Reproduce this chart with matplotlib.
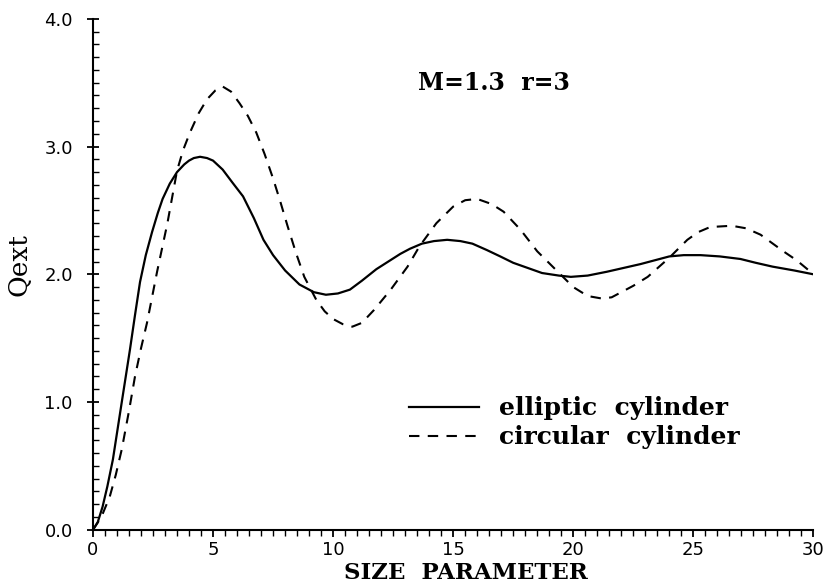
import numpy as np
import matplotlib
matplotlib.use("Agg")
import matplotlib.pyplot as plt
from matplotlib.ticker import MultipleLocator

# values
x_elliptic = [0, 0.2, 0.4, 0.6, 0.83, 1.2, 1.54, 1.75, 1.96, 2.2, 2.46, 2.7, 2.9, 3.2, 3.5,
              3.8, 4.0, 4.2, 4.46, 4.75, 5.0, 5.4, 5.8, 6.25, 6.7, 7.1, 7.5, 8.0, 8.6, 9.2,
              9.7, 10.2, 10.7, 11.2, 11.8, 12.3, 12.8, 13.2, 13.7, 14.2, 14.75, 15.3, 15.8,
              16.4, 16.96, 17.5, 18.1, 18.7, 19.4, 19.9, 20.6, 21.4, 22.1, 22.8, 23.4, 24.0,
              24.6, 25.3, 26.1, 26.96, 27.6, 28.3, 29.2, 30]
q_elliptic = [0, 0.06, 0.18, 0.34, 0.55, 1.0, 1.41, 1.68, 1.94, 2.15, 2.33, 2.48, 2.59, 2.71, 2.8,
              2.86, 2.89, 2.91, 2.92, 2.91, 2.89, 2.82, 2.72, 2.61, 2.44, 2.27, 2.15, 2.03, 1.92, 1.86,
              1.84, 1.85, 1.88, 1.95, 2.04, 2.1, 2.16, 2.2, 2.24, 2.26, 2.27, 2.26, 2.24,
              2.19, 2.14, 2.09, 2.05, 2.01, 1.99, 1.98, 1.99, 2.02, 2.05, 2.08, 2.11, 2.14,
              2.15, 2.15, 2.14, 2.12, 2.09, 2.06, 2.03, 2.0]

x_circular = [0, 0.35, 0.7, 0.95, 1.2, 1.5, 1.75, 2.0, 2.25, 2.67, 3.1, 3.5, 3.75, 4.04, 4.4,
              4.75, 5.1, 5.4, 5.75, 6.1, 6.45, 6.8, 7.15, 7.5, 7.8, 8.1, 8.45, 8.8, 9.3, 9.65,
              10.0, 10.4, 10.8, 11.2, 11.7, 12.4, 13.1, 13.6, 14.3, 15.0, 15.5, 16.0, 16.6,
              17.1, 17.8, 18.5, 19.25, 20.0, 20.6, 21.2, 21.6, 22.0, 22.5, 23.1, 24.0, 24.75,
              25.2, 25.7, 26.6, 27.2, 27.8, 28.75, 29.3, 29.75, 30]
q_circular = [0, 0.1, 0.26, 0.43, 0.63, 0.93, 1.2, 1.42, 1.62, 2.02, 2.4, 2.81, 2.97, 3.11, 3.26,
              3.37, 3.44, 3.47, 3.43, 3.34, 3.24, 3.11, 2.94, 2.75, 2.57, 2.38, 2.17, 1.98, 1.8, 1.71,
              1.65, 1.61, 1.59, 1.62, 1.72, 1.88, 2.06, 2.22, 2.4, 2.53, 2.58, 2.59, 2.55,
              2.49, 2.35, 2.18, 2.04, 1.9, 1.83, 1.81, 1.82, 1.86, 1.91, 1.98, 2.13, 2.27,
              2.33, 2.37, 2.38, 2.36, 2.31, 2.18, 2.11, 2.04, 2.0]

x_ticks = [0, 5, 10, 15, 20, 25, 30]
y_ticks = [0.0, 1.0, 2.0, 3.0, 4.0]
y_ticklabels = ["0.0", "1.0", "2.0", "3.0", "4.0"]

serif = "DejaVu Serif"

fig = plt.figure(figsize=(8.3, 5.88), dpi=100)
ax = fig.add_axes([0.112, 0.099, 0.868, 0.869])

ax.plot(x_elliptic, q_elliptic, color="black", lw=1.6, label="elliptic  cylinder")
ax.plot(x_circular, q_circular, color="black", lw=1.5, dashes=(5, 4), label="circular  cylinder")

ax.set_xlim(0, 30)
ax.set_ylim(0, 4.0)
ax.spines["top"].set_visible(False)
ax.spines["right"].set_visible(False)
ax.spines["left"].set_linewidth(1.5)
ax.spines["bottom"].set_linewidth(1.5)

ax.set_xticks(x_ticks)
ax.xaxis.set_minor_locator(MultipleLocator(0.5))
ax.set_yticks(y_ticks)
ax.set_yticklabels(y_ticklabels)
ax.yaxis.set_minor_locator(MultipleLocator(0.1))

ax.tick_params(axis="x", which="major", direction="out", length=5, width=1.3,
               labelsize=13, pad=3)
ax.tick_params(axis="x", which="minor", direction="out", length=4, width=1.0)
ax.tick_params(axis="y", which="major", direction="inout", length=9, width=1.3,
               labelsize=13, pad=10)
ax.tick_params(axis="y", which="minor", direction="in", length=4, width=1.0)

ax.set_xlabel("SIZE  PARAMETER", family=serif, fontsize=16.5, fontweight="bold", labelpad=2)
ax.xaxis.label.set_x(0.517)
ax.set_ylabel("Qext", family=serif, fontsize=19, labelpad=9)
ax.yaxis.label.set_y(0.52)

ax.text(16.7, 3.5, "M=1.3  r=3", family=serif, fontsize=17, fontweight="bold",
        ha="center", va="center")

ax.legend(loc="center left", bbox_to_anchor=(0.408, 0.209), frameon=False,
          prop={"family": serif, "size": 18, "weight": "bold"}, handlelength=2.8,
          handletextpad=0.8, labelspacing=0.2)

fig.savefig("out.png", dpi=100)
